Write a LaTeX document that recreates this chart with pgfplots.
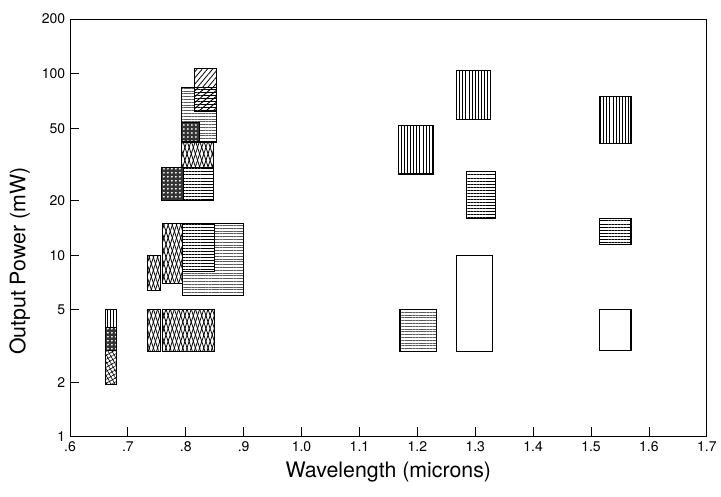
\documentclass[border=0pt]{standalone}
\usepackage{fontspec}
\setmainfont{TeX Gyre Heros}
\usepackage{pgfplots}
\pgfplotsset{compat=1.18}
\usetikzlibrary{patterns,patterns.meta,calc}

% fill styles for the boxes
\tikzset{
  box/.style={draw=black, line width=0.8pt, fill=white},
  vl/.style={box, postaction={pattern={Lines[angle=90,distance=2.3pt,line width=0.55pt]}}},
  hl/.style={box, postaction={pattern={Lines[angle=0,distance=2.3pt,line width=0.55pt]}}},
  hd/.style={box, postaction={pattern={Lines[angle=0,distance=2.1pt,line width=0.35pt]}, pattern color=black!65}},
  dg/.style={box, postaction={pattern={Lines[angle=50,distance=3pt,line width=0.6pt]}}},
  xh/.style={box, postaction={pattern={Lines[angle=0,distance=2.3pt,line width=0.4pt]}},
                  postaction={pattern={Lines[angle=40,distance=3.4pt,line width=0.7pt]}}},
  dm/.style={box, postaction={pattern={Lines[angle=72,distance=3pt,line width=0.6pt]}},
                  postaction={pattern={Lines[angle=-72,distance=3pt,line width=0.6pt]}}},
  dd/.style={draw=black, line width=0.8pt, fill=black!80,
             postaction={pattern={Dots[distance=3pt,radius=0.75pt]}, pattern color=white}},
  wv/.style={box, postaction={pattern={Hatch[angle=30,distance=2.6pt,line width=0.45pt]}}},
  bl/.style={box},
}

\begin{document}
\begin{tikzpicture}
\begin{axis}[
  scale only axis, width=478pt, height=313.5pt,
  xmin=0.6, xmax=1.7,
  ymode=log, ymin=1, ymax=200,
  xtick={0.6,0.7,0.8,0.9,1.0,1.1,1.2,1.3,1.4,1.5,1.6,1.7},
  xticklabels={.6,.7,.8,.9,1.0,1.1,1.2,1.3,1.4,1.5,1.6,1.7},
  ytick={1,2,5,10,20,50,100,200},
  yticklabels={1,2,5,10,20,50,100,200},
  yminorticks=false,
  tick align=inside, xtick pos=bottom, ytick pos=left,
  major tick length=7pt,
  axis line style={line width=0.6pt},
  tick style={line width=0.6pt, black},
  ticklabel style={font=\fontsize{10.5}{12}\selectfont},
  /pgf/number format/assume math mode=true,
  xlabel={Wavelength (microns)},
  ylabel={Output Power (mW)},
  label style={font=\fontsize{16}{19}\selectfont},
  xlabel style={yshift=-1pt},
  ylabel style={at={(ticklabel cs:0.42)}, yshift=2pt},
]
% ---- 0.67 um strip
\addplot[vl] coordinates {(0.662,4) (0.681,4) (0.681,5) (0.662,5)} -- cycle;
\addplot[dd] coordinates {(0.662,3) (0.681,3) (0.681,4) (0.662,4)} -- cycle;
\addplot[wv] coordinates {(0.662,1.95) (0.681,1.95) (0.681,3) (0.662,3)} -- cycle;
% ---- 0.75-0.9 um cluster, low power
\addplot[dm] coordinates {(0.734,2.95) (0.757,2.95) (0.757,5) (0.734,5)} -- cycle;
\addplot[dm] coordinates {(0.760,2.95) (0.850,2.95) (0.850,5) (0.760,5)} -- cycle;
\addplot[dm] coordinates {(0.734,6.4) (0.757,6.4) (0.757,10) (0.734,10)} -- cycle;
\addplot[dm] coordinates {(0.760,7) (0.794,7) (0.794,15) (0.760,15)} -- cycle;
\addplot[hd] coordinates {(0.794,6) (0.900,6) (0.900,15) (0.794,15)} -- cycle;
\addplot[hl] coordinates {(0.794,8.1) (0.849,8.1) (0.849,15) (0.794,15)} -- cycle;
% ---- 0.8 um cluster, high power
\addplot[dd] coordinates {(0.758,20) (0.796,20) (0.796,30.5) (0.758,30.5)} -- cycle;
\addplot[hl] coordinates {(0.796,20) (0.848,20) (0.848,30.5) (0.796,30.5)} -- cycle;
\addplot[dm] coordinates {(0.793,30.5) (0.848,30.5) (0.848,42) (0.793,42)} -- cycle;
\addplot[hd] coordinates {(0.793,42) (0.853,42) (0.853,84) (0.793,84)} -- cycle;
\addplot[dd] coordinates {(0.793,42) (0.823,42) (0.823,54) (0.793,54)} -- cycle;
\addplot[xh] coordinates {(0.815,62) (0.853,62) (0.853,84) (0.815,84)} -- cycle;
\addplot[dg] coordinates {(0.815,84) (0.853,84) (0.853,107) (0.815,107)} -- cycle;
% ---- 1.2-1.3 um
\addplot[vl] coordinates {(1.168,28) (1.228,28) (1.228,52) (1.168,52)} -- cycle;
\addplot[vl] coordinates {(1.268,56) (1.327,56) (1.327,104) (1.268,104)} -- cycle;
\addplot[hl] coordinates {(1.285,16) (1.335,16) (1.335,29) (1.285,29)} -- cycle;
\addplot[bl] coordinates {(1.267,2.95) (1.330,2.95) (1.330,10) (1.267,10)} -- cycle;
\addplot[hd] coordinates {(1.170,2.95) (1.233,2.95) (1.233,5) (1.170,5)} -- cycle;
% ---- 1.55 um
\addplot[vl] coordinates {(1.514,41) (1.569,41) (1.569,75) (1.514,75)} -- cycle;
\addplot[hl] coordinates {(1.514,11.5) (1.569,11.5) (1.569,16) (1.514,16)} -- cycle;
\addplot[bl] coordinates {(1.514,3) (1.569,3) (1.569,5) (1.514,5)} -- cycle;
\end{axis}
\path ($(current axis.south west)+(-52.5pt,-45pt)$) rectangle ($(current axis.north east)+(9.75pt,14.25pt)$);
\end{tikzpicture}
\end{document}
